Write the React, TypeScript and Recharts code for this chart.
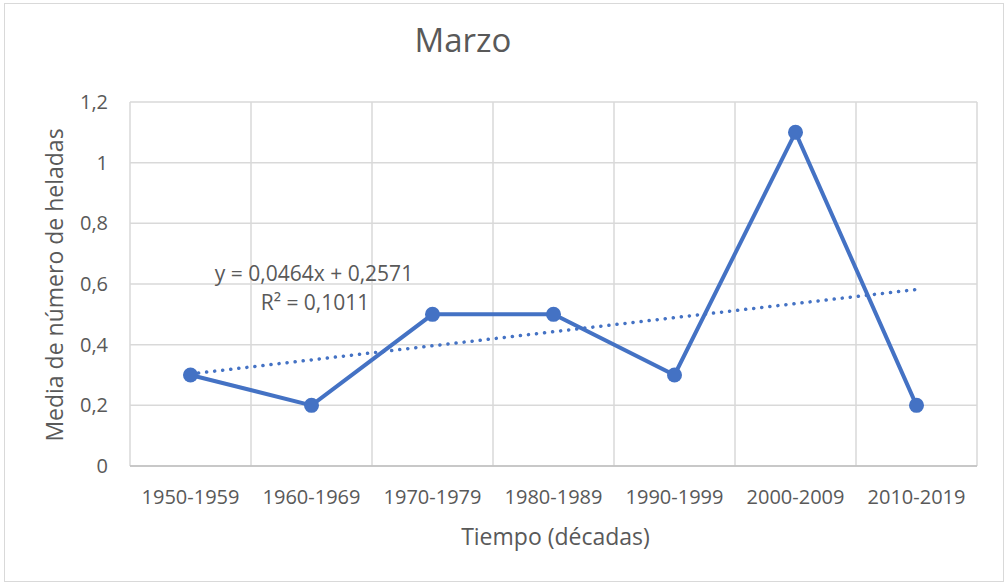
import React from 'react';
import { LineChart, Line, XAxis, YAxis, CartesianGrid, Customized } from 'recharts';

const decades = ['1950-1959', '1960-1969', '1970-1979', '1980-1989', '1990-1999', '2000-2009', '2010-2019'];
const heladas = [0.3, 0.2, 0.5, 0.5, 0.3, 1.1, 0.2];
const yTicks = [0, 0.2, 0.4, 0.6, 0.8, 1, 1.2];

// linear trendline as shown in the chart: y = 0,0464x + 0,2571
const slope = 0.0464;
const intercept = 0.2571;

const data = decades.map((d, i) => ({
    decade: d,
    value: heladas[i],
    trend: slope * (i + 1) + intercept,
}));

const FONT = '"Open Sans", "Noto Sans", sans-serif';
const TEXT = '#595959';
const GRID = '#d9d9d9';
const BLUE = '#4472c4';

const W = 1007;
const H = 585;
const PLOT_LEFT = 130;
const PLOT_TOP = 102;
const PLOT_RIGHT = 30;
const PLOT_BOTTOM = 119;
const PLOT_W = W - PLOT_LEFT - PLOT_RIGHT;
const PLOT_H = H - PLOT_TOP - PLOT_BOTTOM;
const HALF_BAND = PLOT_W / decades.length / 2;

// category boundaries for the vertical gridlines (Excel style)
const boundaries = decades.map((_, i) => PLOT_LEFT + (i * PLOT_W) / decades.length).concat([PLOT_LEFT + PLOT_W]);

const Labels = () => (
    <g fontFamily={FONT} fill={TEXT}>
        <text x={463} y={52} textAnchor="middle" fontSize={33}>Marzo</text>
        <text x={PLOT_LEFT + PLOT_W / 2 + 2} y={545} textAnchor="middle" fontSize={23}>Tiempo (décadas)</text>
        <text
            x={0}
            y={0}
            textAnchor="middle"
            fontSize={23}
            transform={`translate(63, ${PLOT_TOP + PLOT_H / 2 + 1}) rotate(-90)`}
        >
            Media de número de heladas
        </text>
        <text x={314} y={281} textAnchor="middle" fontSize={21}>y = 0,0464x + 0,2571</text>
        <text x={315} y={310} textAnchor="middle" fontSize={21}>R² = 0,1011</text>
    </g>
);

const App: React.FC = () => {
    return (
        <div style={{ position: 'absolute', left: 0, top: 0, width: W, height: H, background: '#fff' }}>
            <div
                style={{
                    position: 'absolute',
                    left: 4,
                    top: 3,
                    width: 1000,
                    height: 579,
                    border: `1px solid ${GRID}`,
                    boxSizing: 'border-box',
                }}
            />
            <LineChart
                width={W}
                height={H}
                data={data}
                margin={{ top: PLOT_TOP, right: PLOT_RIGHT, left: 0, bottom: 0 }}
                style={{ position: 'absolute', left: 0, top: 0 }}
            >
                <CartesianGrid stroke={GRID} strokeWidth={1.5} verticalPoints={boundaries} />
                <XAxis
                    dataKey="decade"
                    height={PLOT_BOTTOM}
                    padding={{ left: HALF_BAND, right: HALF_BAND }}
                    tickLine={false}
                    tickSize={0}
                    tickMargin={24}
                    axisLine={{ stroke: '#bfbfbf', strokeWidth: 1.5 }}
                    tick={{ fill: TEXT, fontSize: 20, fontFamily: FONT }}
                    interval={0}
                />
                <YAxis
                    width={PLOT_LEFT}
                    domain={[0, 1.2]}
                    ticks={yTicks}
                    axisLine={false}
                    tickLine={false}
                    tickSize={0}
                    tickMargin={22}
                    tick={{ fill: TEXT, fontSize: 20, fontFamily: FONT }}
                    tickFormatter={(v: number) => String(v).replace('.', ',')}
                />
                <Line
                    dataKey="trend"
                    stroke={BLUE}
                    strokeWidth={3.5}
                    strokeDasharray="0.1 8"
                    strokeLinecap="round"
                    dot={false}
                    type="linear"
                    isAnimationActive={false}
                />
                <Line
                    dataKey="value"
                    stroke={BLUE}
                    strokeWidth={4}
                    dot={{ r: 7.5, fill: BLUE, stroke: BLUE, strokeWidth: 0 }}
                    type="linear"
                    isAnimationActive={false}
                />
                <Customized component={Labels} />
            </LineChart>
        </div>
    );
};

export default App;
